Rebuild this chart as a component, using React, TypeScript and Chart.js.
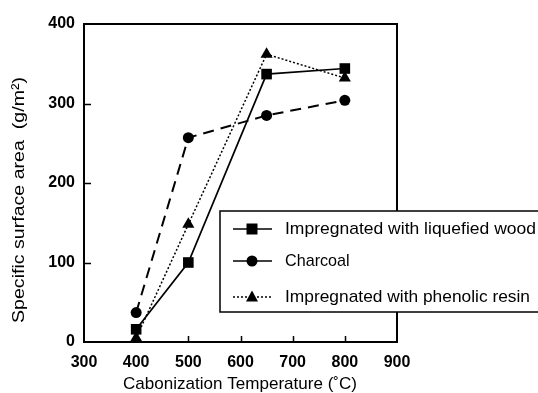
import React, { useEffect, useRef } from "react";
import { Chart, registerables } from "chart.js";

Chart.register(...registerables);

const temperatures = [400, 500, 650, 800];
const liquefiedWood = [16, 100, 337, 344];
const charcoal = [37, 257, 285, 304];
const phenolicResin = [5, 148, 362, 332];
const xTicks = [300, 400, 500, 600, 700, 800, 900];
const yTicks = [0, 100, 200, 300, 400];
const seriesNames = [
  "Impregnated with liquefied wood",
  "Charcoal",
  "Impregnated with phenolic resin",
];
const xTitle = "Cabonization Temperature (˚C)";
const yTitle = "Specific surface area  (g/m²)";

const FONT = "'Liberation Sans', Arial, sans-serif";

const toPoints = (ys: number[]) => temperatures.map((x, i) => ({ x, y: ys[i] }));

function fitText(ctx: CanvasRenderingContext2D, text: string, x: number, y: number, target: number) {
  const w = ctx.measureText(text).width;
  const s = target / w;
  ctx.save();
  ctx.translate(x, y);
  ctx.scale(s, 1);
  ctx.fillText(text, 0, 0);
  ctx.restore();
}

const decorPlugin = {
  id: "decor",
  beforeDatasetsDraw(chart: any) {
    const { ctx, chartArea: a, scales } = chart;
    ctx.save();
    ctx.strokeStyle = "#000";
    ctx.lineWidth = 2;
    ctx.strokeRect(a.left, a.top, a.right - a.left, a.bottom - a.top);
    ctx.lineWidth = 1.5;
    ctx.beginPath();
    xTicks.slice(1, -1).forEach((v) => {
      const px = Math.round(scales.x.getPixelForValue(v)) + 0.5;
      ctx.moveTo(px, a.bottom);
      ctx.lineTo(px, a.bottom - 6);
    });
    yTicks.slice(1, -1).forEach((v) => {
      const py = Math.round(scales.y.getPixelForValue(v)) + 0.5;
      ctx.moveTo(a.left, py);
      ctx.lineTo(a.left + 7, py);
    });
    ctx.stroke();
    ctx.restore();
  },
  afterDraw(chart: any) {
    const { ctx } = chart;
    ctx.save();
    // titles
    ctx.fillStyle = "#000";
    ctx.font = `17px ${FONT}`;
    ctx.textAlign = "left";
    ctx.textBaseline = "middle";
    fitText(ctx, xTitle, 123, 384, 234);
    ctx.save();
    ctx.translate(19, 323);
    ctx.rotate(-Math.PI / 2);
    fitText(ctx, yTitle, 0, 0, 246);
    ctx.restore();

    // legend
    const bx = 220, by = 211, bw = 330, bh = 101;
    ctx.fillStyle = "#fff";
    ctx.fillRect(bx, by, bw, bh);
    ctx.strokeStyle = "#000";
    ctx.lineWidth = 1.5;
    ctx.strokeRect(bx, by, bw, bh);
    const rows = [229, 261, 297];
    const styles = [
      { dash: [], shape: "rect" },
      { dash: [], shape: "circle" },
      { dash: [2, 2], shape: "triangle" },
    ];
    const widths = [251, 0, 245];
    rows.forEach((ry, i) => {
      ctx.beginPath();
      ctx.setLineDash(styles[i].dash);
      ctx.lineWidth = 1.6;
      ctx.moveTo(233, ry);
      ctx.lineTo(272, ry);
      ctx.stroke();
      ctx.setLineDash([]);
      ctx.fillStyle = "#000";
      ctx.beginPath();
      const cx = 252;
      if (styles[i].shape === "rect") {
        ctx.rect(cx - 5.5, ry - 5.5, 11, 11);
      } else if (styles[i].shape === "circle") {
        ctx.arc(cx, ry, 5.5, 0, Math.PI * 2);
      } else {
        ctx.moveTo(cx, ry - 6.5);
        ctx.lineTo(cx + 6, ry + 4.5);
        ctx.lineTo(cx - 6, ry + 4.5);
        ctx.closePath();
      }
      ctx.fill();
      ctx.font = `17px ${FONT}`;
      ctx.textAlign = "left";
      ctx.textBaseline = "middle";
      if (widths[i] > 0) {
        fitText(ctx, seriesNames[i], 285, ry, widths[i]);
      } else {
        const w = ctx.measureText(seriesNames[i]).width;
        fitText(ctx, seriesNames[i], 285, ry, w * 0.95);
      }
    });
    ctx.restore();
  },
};

export default function App() {
  const ref = useRef<HTMLCanvasElement>(null);
  useEffect(() => {
    if (!ref.current) return;
    const chart = new Chart(ref.current, {
      type: "line",
      data: {
        datasets: [
          {
            label: seriesNames[0],
            data: toPoints(liquefiedWood),
            borderColor: "#000",
            backgroundColor: "#000",
            borderWidth: 1.7,
            pointStyle: "rect",
            pointRadius: 7.5,
            pointBorderWidth: 0,
            tension: 0,
          },
          {
            label: seriesNames[1],
            data: toPoints(charcoal),
            borderColor: "#000",
            backgroundColor: "#000",
            borderWidth: 2,
            borderDash: [11, 7],
            pointStyle: "circle",
            pointRadius: 5.5,
            pointBorderWidth: 0,
            tension: 0,
          },
          {
            label: seriesNames[2],
            data: toPoints(phenolicResin),
            borderColor: "#000",
            backgroundColor: "#000",
            borderWidth: 1.5,
            borderDash: [2, 2],
            pointStyle: "triangle",
            pointRadius: 7,
            pointBorderWidth: 0,
            tension: 0,
          },
        ],
      },
      options: {
        responsive: false,
        animation: false,
        layout: { padding: { left: 0, right: 141, top: 24, bottom: 0 } },
        plugins: { legend: { display: false }, tooltip: { enabled: false } },
        scales: {
          x: {
            type: "linear",
            min: 300,
            max: 900,
            afterBuildTicks: (s: any) => {
              s.ticks = xTicks.map((v) => ({ value: v }));
            },
            afterFit: (s: any) => {
              s.height = 51;
            },
            grid: { display: false, drawTicks: false },
            border: { display: false },
            ticks: {
              padding: 11,
              color: "#000",
              font: { family: FONT, size: 16, weight: "bold" },
            },
          },
          y: {
            type: "linear",
            min: 0,
            max: 400,
            afterBuildTicks: (s: any) => {
              s.ticks = yTicks.map((v) => ({ value: v }));
            },
            afterFit: (s: any) => {
              s.width = 84;
            },
            grid: { display: false, drawTicks: false },
            border: { display: false },
            ticks: {
              padding: 9,
              color: "#000",
              font: { family: FONT, size: 16, weight: "bold" },
            },
          },
        },
      },
      plugins: [decorPlugin],
    } as any);
    return () => chart.destroy();
  }, []);
  return (
    <div style={{ position: "absolute", left: 0, top: 0, width: 538, height: 393, background: "#fff" }}>
      <canvas ref={ref} width={538} height={393} />
    </div>
  );
}
